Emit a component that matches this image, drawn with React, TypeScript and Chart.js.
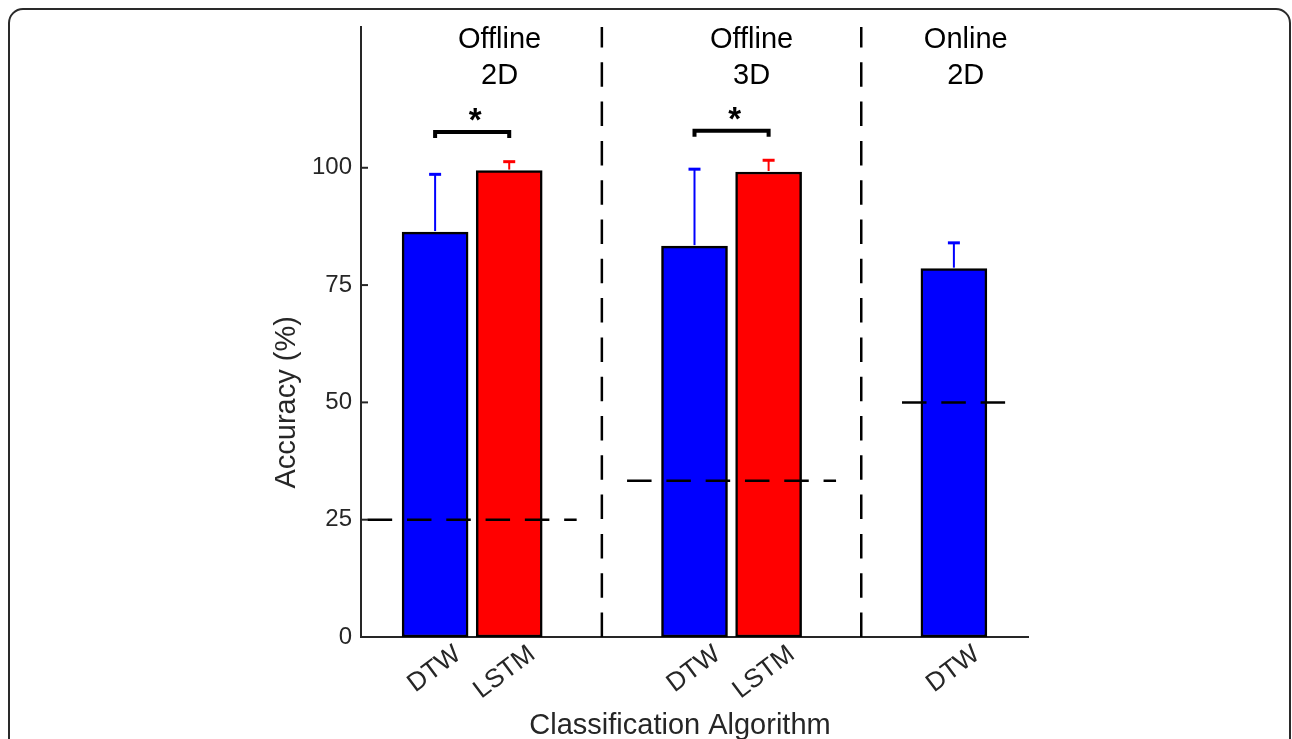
import React, { useEffect, useRef } from "react";
import { Chart, registerables } from "chart.js";

Chart.register(...registerables);

// ---------- data ----------
const categories = ["DTW", "LSTM", "DTW", "LSTM", "DTW"];
const categoryX = [1, 2, 4.5, 5.5, 8];

const dtwX = [1, 4.5, 8];
const dtwMean = [86.3, 83.3, 78.5];
const dtwErr = [12.3, 16.4, 5.5];

const lstmX = [2, 5.5];
const lstmMean = [99.4, 99.1];
const lstmErr = [1.9, 2.5];

const yTicks = [0, 25, 50, 75, 100];

const chanceLevels = [25, 33.3, 50];
const chanceStart = [0.09, 3.59, 7.3];
const chanceEnd = [2.91, 6.41, 8.7];

const dividerX = [3.25, 6.75];

const groupLabels = [
  ["Offline", "2D"],
  ["Offline", "3D"],
  ["Online", "2D"],
];
const groupLabelX = [1.87, 5.27, 8.16];

const sigPairs = [
  [1, 2],
  [4.5, 5.5],
];
const sigLevel = [107.6, 107.9];
const sigMark = ["*", "*"];

const xTitle = "Classification Algorithm";
const yTitle = "Accuracy (%)";

// ---------- styles ----------
const FONT = '"Liberation Sans", Arial, Helvetica, sans-serif';
const TEXT = "#262626";
const BLUE = "#0000ff";
const RED = "#ff0000";
const DASH = [24.5, 14.8];

const annotations = {
  id: "annotations",
  beforeDraw(chart: any) {
    const ctx = chart.ctx;
    ctx.save();
    ctx.strokeStyle = "#2a2a2a";
    ctx.lineWidth = 2;
    ctx.beginPath();
    if (ctx.roundRect) ctx.roundRect(9, 9, 1281, 800, 14);
    else ctx.rect(9, 9, 1281, 800);
    ctx.stroke();
    ctx.restore();
  },
  afterDatasetsDraw(chart: any) {
    const ctx = chart.ctx;
    const ys = chart.scales.y;
    const xs = chart.scales.x;
    const errs = [dtwErr, lstmErr];
    const means = [dtwMean, lstmMean];
    const colors = [BLUE, RED];
    ctx.save();
    chart.data.datasets.forEach((ds: any, di: number) => {
      if (ds.type !== "bar") return;
      const k = ds.errIndex;
      const meta = chart.getDatasetMeta(di);
      meta.data.forEach((el: any, i: number) => {
        const x = el.x;
        const top = ys.getPixelForValue(means[k][i]);
        const cap = ys.getPixelForValue(means[k][i] + errs[k][i]);
        ctx.strokeStyle = colors[k];
        ctx.lineWidth = 2;
        ctx.beginPath();
        ctx.moveTo(x, top - 1);
        ctx.lineTo(x, cap);
        ctx.stroke();
        ctx.lineWidth = 3;
        ctx.beginPath();
        ctx.moveTo(x - 6, cap);
        ctx.lineTo(x + 6, cap);
        ctx.stroke();
      });
    });

    // significance brackets
    sigPairs.forEach((p, i) => {
      const x1 = xs.getPixelForValue(p[0]);
      const x2 = xs.getPixelForValue(p[1]);
      const y = ys.getPixelForValue(sigLevel[i]);
      ctx.strokeStyle = "#000";
      ctx.lineWidth = 4;
      ctx.lineJoin = "miter";
      ctx.lineCap = "square";
      ctx.beginPath();
      ctx.moveTo(x1, y + 4);
      ctx.lineTo(x1, y);
      ctx.lineTo(x2, y);
      ctx.lineTo(x2, y + 4);
      ctx.stroke();
      ctx.fillStyle = "#000";
      ctx.font = `bold 33px ${FONT}`;
      ctx.textAlign = "center";
      ctx.textBaseline = "alphabetic";
      ctx.fillText(sigMark[i], (x1 + x2) / 2 + 3, y - 1);
    });
    ctx.restore();
  },
  afterDraw(chart: any) {
    const ctx = chart.ctx;
    const ys = chart.scales.y;
    const xs = chart.scales.x;
    const area = chart.chartArea;
    ctx.save();
    // inward y ticks
    ctx.strokeStyle = TEXT;
    ctx.lineWidth = 2;
    yTicks.forEach((v) => {
      const y = ys.getPixelForValue(v);
      ctx.beginPath();
      ctx.moveTo(area.left, y);
      ctx.lineTo(area.left + 7, y);
      ctx.stroke();
    });

    // group labels
    ctx.fillStyle = "#000";
    ctx.font = `29px ${FONT}`;
    ctx.textAlign = "center";
    ctx.textBaseline = "middle";
    groupLabels.forEach((lines, i) => {
      const x = xs.getPixelForValue(groupLabelX[i]);
      lines.forEach((t, j) => {
        ctx.fillText(t, x, 40 + j * 36);
      });
    });

    // axis titles
    ctx.fillStyle = TEXT;
    ctx.font = `29px ${FONT}`;
    ctx.textAlign = "center";
    ctx.textBaseline = "middle";
    ctx.fillText(xTitle, 680, 726);
    ctx.save();
    ctx.translate(287, ys.getPixelForValue(50));
    ctx.rotate(-Math.PI / 2);
    ctx.fillText(yTitle, 0, 0);
    ctx.restore();
    ctx.restore();
  },
};

export default function App() {
  const ref = useRef<HTMLCanvasElement | null>(null);

  useEffect(() => {
    if (!ref.current) return;
    const lineDatasets: any[] = [];
    chanceLevels.forEach((lv, i) => {
      lineDatasets.push({
        type: "line",
        label: `chance ${lv}`,
        data: [
          { x: chanceStart[i], y: lv },
          { x: chanceEnd[i], y: lv },
        ],
        borderColor: "#000",
        borderWidth: 2.5,
        borderDash: DASH,
        pointRadius: 0,
        fill: false,
        tension: 0,
        order: 0,
      });
    });
    dividerX.forEach((dx, i) => {
      lineDatasets.push({
        type: "line",
        label: `divider ${i}`,
        data: [
          { x: dx, y: 0 },
          { x: dx, y: 130 },
        ],
        borderColor: "#000",
        borderWidth: 2.5,
        borderDash: DASH,
        pointRadius: 0,
        fill: false,
        tension: 0,
        order: 0,
      });
    });

    const chart = new Chart(ref.current, {
      type: "bar",
      data: {
        datasets: [
          ...lineDatasets,
          {
            type: "bar",
            label: "DTW",
            errIndex: 0,
            data: dtwX.map((x, i) => ({ x, y: dtwMean[i] })),
            backgroundColor: BLUE,
            borderColor: "#000",
            borderWidth: 2.5,
            borderSkipped: false,
            barThickness: 66,
            grouped: false,
            order: 1,
          } as any,
          {
            type: "bar",
            label: "LSTM",
            errIndex: 1,
            data: lstmX.map((x, i) => ({ x, y: lstmMean[i] })),
            backgroundColor: RED,
            borderColor: "#000",
            borderWidth: 2.5,
            borderSkipped: false,
            barThickness: 66,
            grouped: false,
            order: 1,
          } as any,
        ],
      },
      options: {
        responsive: false,
        animation: false,
        devicePixelRatio: 1,
        events: [],
        layout: { padding: { left: 0, top: 27, right: 264, bottom: 0 } },
        plugins: {
          legend: { display: false },
          tooltip: { enabled: false },
          title: { display: false },
        },
        scales: {
          x: {
            type: "linear",
            min: 0,
            max: 9,
            offset: false,
            grid: { display: false, drawTicks: false },
            border: { display: true, color: TEXT, width: 2 },
            afterBuildTicks: (scale: any) => {
              scale.ticks = categoryX.map((v) => ({ value: v }));
            },
            afterFit: (scale: any) => {
              scale.height = 102;
            },
            ticks: {
              autoSkip: false,
              minRotation: 37,
              maxRotation: 37,
              labelOffset: 23,
              padding: 2,
              color: TEXT,
              font: { family: FONT, size: 26 },
              callback: (_v: any, i: number) => categories[i],
            },
          },
          y: {
            type: "linear",
            min: 0,
            max: 130,
            grid: { display: false, drawTicks: false },
            border: { display: true, color: TEXT, width: 2 },
            afterBuildTicks: (scale: any) => {
              scale.ticks = yTicks.map((v) => ({ value: v }));
            },
            afterFit: (scale: any) => {
              scale.width = 361;
            },
            ticks: {
              padding: 9,
              color: TEXT,
              font: { family: FONT, size: 24 },
              callback: (v: any) => String(v),
            },
          },
        },
      } as any,
      plugins: [annotations],
    });
    return () => chart.destroy();
  }, []);

  return (
    <div style={{ position: "fixed", left: 0, top: 0, width: 1292, height: 739, background: "#fff" }}>
      <canvas ref={ref} width={1292} height={739} style={{ display: "block" }} />
    </div>
  );
}
